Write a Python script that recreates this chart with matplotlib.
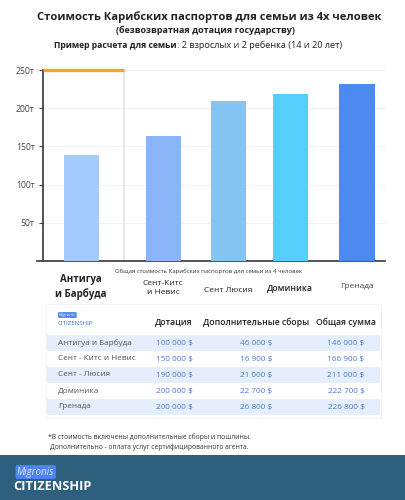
import matplotlib.pyplot as plt
from matplotlib.patches import Rectangle

plt.rcParams['font.family'] = ['Open Sans', 'DejaVu Sans']

# chart data (thousands of $)
countries = ['Антигуа\nи Барбуда', 'Сент-Китс\nи Невис', 'Сент Люсия', 'Доминика', 'Гренада']
totals = [139, 164, 209, 219, 232]
bar_colors = ['#A3CBFD', '#8AB4F8', '#84C5F4', '#56CDFB', '#4C8AF2']
yticks = [50, 100, 150, 200, 250]
ytick_labels = ['50т', '100т', '150т', '200т', '250т']

# table data
table_names = ['Антигуа и Барбуда', 'Сент - Китс и Невис', 'Сент - Люсия', 'Доминика', 'Гренада']
subsidy = ['100 000 $', '150 000 $', '190 000 $', '200 000 $', '200 000 $']
fees = ['46 000 $', '16 900 $', '21 000 $', '22 700 $', '26 800 $']
table_totals = ['146 000 $', '166 900 $', '211 000 $', '222 700 $', '226 800 $']
headers = ['Дотация', 'Дополнительные сборы', 'Общая сумма']

W, H = 406, 500
fig = plt.figure(figsize=(W / 100, H / 100), dpi=100)


def fx(x):
    return x / W


def fy(y):
    return 1 - y / H


# titles
fig.text(fx(209), fy(17), 'Стоимость Карибских паспортов для семьи из 4х человек',
         ha='center', va='center', fontsize=8.1, fontweight='bold', color='#222222')
fig.text(fx(205), fy(30), '(безвозвратная дотация государству)',
         ha='center', va='center', fontsize=6.5, fontweight='bold', color='#222222')
fig.text(fx(177), fy(45), 'Пример расчета для семьи',
         ha='right', va='center', fontsize=6.2, fontweight='bold', color='#222222')
fig.text(fx(177), fy(45), ': 2 взрослых и 2 ребенка (14 и 20 лет)',
         ha='left', va='center', fontsize=6.6, color='#222222')

# bar chart
ax = fig.add_axes([fx(37), fy(261), fx(385) - fx(37), (261 - 70) / H])
slot = [0.68, 1.95, 2.95, 3.9, 4.92]
ax.bar(slot, totals, width=0.54, color=bar_colors, zorder=3)
ax.set_xlim(0, 5.35)
ax.set_ylim(0, 250)
ax.set_yticks(yticks)
ax.set_yticklabels(ytick_labels)
ax.set_xticks([])
ax.tick_params(axis='y', length=3, width=0.8, labelsize=6.2, labelcolor='#444444', color='#444444', pad=3)
for s in ['top', 'right']:
    ax.spines[s].set_visible(False)
ax.spines['left'].set_position(('axes', 6 / 348))
ax.spines['left'].set_color('#333344')
ax.spines['left'].set_linewidth(1.2)
ax.spines['bottom'].set_color('#333344')
ax.spines['bottom'].set_linewidth(1.2)
ax.grid(axis='y', color='#F1F1F1', linewidth=0.8, zorder=0)
ax.set_axisbelow(True)
# highlight of the first column
ax.plot([6 / 65, 1.34], [250, 250], color='#F5A623', lw=2.4, solid_capstyle='butt', clip_on=False, zorder=4)
ax.plot([1.34, 1.34], [0, 250], color='#E6E6E6', lw=1.3, zorder=1)

fig.text(fx(209), fy(271), 'Общая стоимость Карибских паспортов для семьи из 4 человек',
         ha='center', va='center', fontsize=4.3, color='#333333')

label_x = [81, 163, 228, 290, 357]
label_y = [287, 288, 290, 288, 287]
label_w = ['bold', 'normal', 'normal', 'semibold', 'normal']
label_s = [7.0, 6.0, 6.0, 6.2, 6.0]
for i, name in enumerate(countries):
    fig.text(fx(label_x[i]), fy(label_y[i]), name, ha='center', va='center',
             fontsize=label_s[i], fontweight=label_w[i], color='#222222' if i != 4 else '#444444',
             linespacing=1.35)

# table
fig.patches.append(Rectangle((fx(46), fy(418)), fx(381) - fx(46), (418 - 304) / H,
                             transform=fig.transFigure, facecolor='white', edgecolor='#F3F3F3', lw=0.8))
fig.text(fx(59), fy(315), 'Migronis', ha='left', va='center', fontsize=3.2, style='italic',
         color='white', bbox=dict(boxstyle='round,pad=0.2', fc='#4C84F0', ec='none'))
fig.text(fx(58), fy(323.5), 'CITIZENSHIP', ha='left', va='center', fontsize=4.4, color='#3B6FD0')
col_x = [174, 256, 346]
for cx, h in zip(col_x, headers):
    fig.text(fx(cx), fy(322), h, ha='center', va='center', fontsize=6.2,
             fontweight='semibold', color='#222222')

row_y = [343, 359, 375, 391, 407]
for i in range(len(table_names)):
    if i % 2 == 0:
        fig.patches.append(Rectangle((fx(47), fy(row_y[i] + 8)), fx(380) - fx(47), 16 / H,
                                     transform=fig.transFigure, facecolor='#E4EEFC', edgecolor='none'))
    fig.text(fx(58), fy(row_y[i]), table_names[i], ha='left', va='center', fontsize=5.9, color='#555555')
    for cx, v in zip(col_x, [subsidy[i], fees[i], table_totals[i]]):
        fig.text(fx(cx), fy(row_y[i]), v, ha='center', va='center', fontsize=5.9, color='#4A78D0')

# footnote
fig.text(fx(48), fy(437), '*В стоимость включены дополнительные сборы и пошлины.',
         ha='left', va='center', fontsize=4.9, color='#333333')
fig.text(fx(50), fy(447), 'Дополнительно - оплата услуг сертифицированного агента.',
         ha='left', va='center', fontsize=4.9, color='#333333')

# footer
fig.patches.append(Rectangle((0, 0), 1, (500 - 455) / H, transform=fig.transFigure,
                             facecolor='#2D5F7E', edgecolor='none'))
fig.text(fx(17), fy(472), 'Migronis', ha='left', va='center', fontsize=7, style='italic',
         color='#DDE8FF', bbox=dict(boxstyle='round,pad=0.15', fc='#4C84F0', ec='none'))
fig.text(fx(13), fy(487), 'CITIZENSHIP', ha='left', va='center', fontsize=9.3,
         fontweight='bold', color='white')

fig.savefig('out.png', dpi=100)
